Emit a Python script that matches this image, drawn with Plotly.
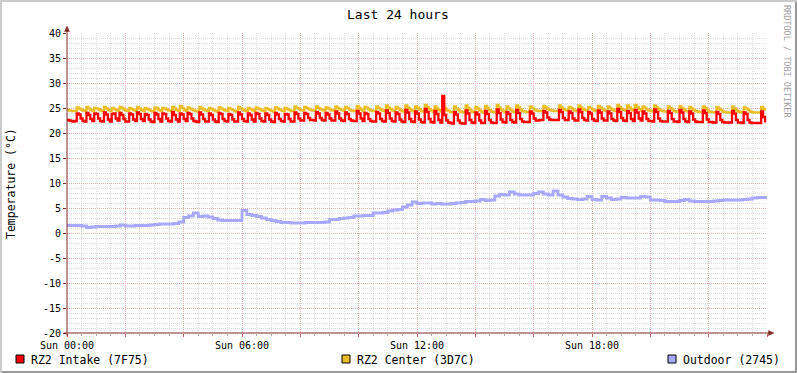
import plotly.graph_objects as go
import pandas as pd

# ---------------- data ----------------
START = "2024-03-03 00:00"   # a Sunday
END = "2024-03-04 00:00"

SERIES_NAMES = ["RZ2 Intake (7F75)", "RZ2 Center (3D7C)", "Outdoor (2745)"]
COLORS = ["#FF0000", "#EBBE28", "#A8A8FF"]

# 4-minute samples
intake = [
    22.6, 22.5, 22.4, 22.3, 22.4,
    23.9, 23.7, 22.9, 22.4, 22.3,
    24.0, 23.6, 22.8, 22.4,
    23.9, 23.8, 22.9, 22.4, 22.3,
    24.1, 23.7, 22.7, 22.3,
    23.8, 23.9, 22.9, 22.5,
    24.0, 23.6, 22.8, 22.3, 22.3,
    23.9, 23.7, 22.7, 22.4,
    24.1, 23.8, 22.8, 22.4,
    23.8, 23.6, 22.7, 22.3, 22.2,
    24.0, 23.7, 22.8, 22.3,
    23.9, 23.8, 22.9, 22.4, 22.3,
    24.2, 23.6, 22.7, 22.3,
    23.9, 23.7, 22.8, 22.4,
    24.0, 23.8, 22.9, 22.4, 22.3, 22.2,
    24.1, 23.7, 22.8, 22.3, 22.3,
    23.9, 23.6, 22.7, 22.3, 22.2,
    24.0, 23.8, 22.8, 22.4, 22.3,
    23.8, 23.6, 22.7, 22.3, 22.3,
    24.1, 23.7, 22.8, 22.4, 22.3,
    23.9, 23.6, 22.7, 22.3,
    24.0, 23.8, 22.9, 22.4, 22.3,
    23.9, 23.6, 22.7, 22.3, 22.2,
    24.0, 23.7, 22.8, 22.4, 22.3,
    23.8, 23.7, 22.8, 22.3, 22.3,
    24.1, 23.8, 22.9, 22.5, 22.5,
    24.0, 23.8, 23.0, 22.6, 22.6, 22.5,
    24.2, 23.9, 23.0, 22.6, 22.5,
    24.0, 23.7, 22.9, 22.5, 22.5,
    24.3, 23.9, 22.9, 22.5, 22.4,
    24.1, 23.8, 22.8, 22.5, 22.4, 22.4,
    24.4, 23.9, 22.9, 22.4,
    24.0, 23.8, 22.8, 22.4, 22.3, 22.3,
    24.2, 23.9, 22.8, 22.4, 22.3,
    24.5, 24.0, 22.9, 22.4, 22.3,
    24.1, 23.8, 22.7, 22.3, 22.2,
    24.6, 24.1, 22.8, 22.3, 22.2,
    24.3, 23.9, 22.7, 22.2, 22.1,
    24.8, 24.2, 22.8, 22.2, 22.1,
    24.4, 23.8, 22.6, 22.1,
    27.4, 23.6, 22.5, 22.1, 22.0, 21.9,
    24.2, 23.7, 22.5, 22.0, 21.9, 21.9,
    24.5, 23.9, 22.6, 22.1, 22.0,
    24.1, 23.7, 22.5, 22.0, 22.0,
    24.4, 23.8, 22.6, 22.1, 22.0, 22.0,
    24.7, 24.0, 22.7, 22.2, 22.1,
    24.2, 23.8, 22.6, 22.2, 22.1,
    24.6, 24.0, 22.8, 22.3, 22.2, 22.2, 22.2,
    24.3, 23.9, 22.9, 22.5, 22.5, 22.6, 22.6,
    24.4, 24.1, 23.1, 22.7, 22.6, 22.6, 22.6, 22.6,
    24.6, 24.2, 23.0, 22.6, 22.6,
    24.3, 24.0, 22.9, 22.5, 22.5,
    24.7, 24.2, 23.0, 22.6, 22.5,
    24.2, 23.9, 22.8, 22.5, 22.4,
    24.5, 24.1, 22.9, 22.5, 22.5,
    24.3, 23.9, 22.8, 22.5, 22.4,
    24.8, 24.2, 23.0, 22.5, 22.4,
    24.4, 24.0, 22.8, 22.4,
    24.6, 24.1, 22.9, 22.5,
    24.3, 23.9, 22.8, 22.4, 22.4, 22.3,
    24.7, 24.2, 22.9, 22.4, 22.3, 22.3, 22.3,
    24.4, 24.0, 22.8, 22.3, 22.3, 22.2,
    24.6, 24.1, 22.8, 22.3, 22.2,
    24.3, 23.9, 22.7, 22.3, 22.2, 22.2, 22.2,
    24.5, 24.0, 22.7, 22.2, 22.2, 22.1, 22.1,
    24.2, 23.8, 22.6, 22.2, 22.1, 22.1, 22.1, 22.1,
    24.4, 23.9, 22.6, 22.1, 22.1, 22.0,
    24.1, 23.8, 22.6, 22.1, 22.0, 22.0, 22.0, 22.0, 22.0,
    24.3, 23.2, 22.1,
]

center = [
    24.6, 24.5, 24.4, 24.4, 24.4,
    25.1, 24.9, 24.7, 24.5, 24.4,
    25.2, 24.9, 24.6, 24.4,
    25.0, 24.9, 24.7, 24.5, 24.4,
    25.2, 24.9, 24.6, 24.4,
    25.0, 24.8, 24.6, 24.4,
    25.2, 25.0, 24.7, 24.5, 24.4,
    25.0, 24.8, 24.6, 24.4,
    25.2, 24.9, 24.6, 24.4,
    25.0, 24.8, 24.6, 24.4, 24.3,
    25.1, 24.9, 24.6, 24.4,
    25.0, 24.9, 24.7, 24.5, 24.4,
    25.2, 24.9, 24.6, 24.4,
    25.4, 25.0, 24.7, 24.4,
    25.1, 24.9, 24.7, 24.5, 24.4, 24.3,
    25.2, 24.9, 24.7, 24.5, 24.4,
    25.0, 24.8, 24.6, 24.4, 24.3,
    25.1, 24.9, 24.7, 24.5, 24.4,
    25.0, 24.8, 24.6, 24.4, 24.3,
    25.2, 24.9, 24.7, 24.5, 24.4,
    25.0, 24.8, 24.6, 24.4,
    25.1, 24.9, 24.7, 24.5, 24.4,
    25.0, 24.8, 24.6, 24.4, 24.3,
    25.1, 24.9, 24.7, 24.5, 24.4,
    25.0, 24.8, 24.6, 24.4, 24.4,
    25.3, 25.0, 24.8, 24.6, 24.5,
    25.2, 25.0, 24.8, 24.6, 24.5, 24.5,
    25.3, 25.0, 24.8, 24.6, 24.5,
    25.1, 24.9, 24.7, 24.5, 24.5,
    25.3, 25.0, 24.8, 24.6, 24.5,
    25.2, 25.0, 24.7, 24.5, 24.4, 24.4,
    25.4, 25.0, 24.7, 24.4,
    25.2, 25.0, 24.7, 24.5, 24.4, 24.4,
    25.3, 25.0, 24.7, 24.5, 24.4,
    25.5, 25.1, 24.8, 24.5, 24.4,
    25.2, 24.9, 24.6, 24.4, 24.3,
    25.5, 25.1, 24.8, 24.5, 24.3,
    25.3, 25.0, 24.7, 24.4, 24.3,
    25.6, 25.2, 24.8, 24.5, 24.3,
    25.3, 24.9, 24.6, 24.3,
    25.5, 25.0, 24.6, 24.4, 24.2, 24.2,
    25.3, 24.9, 24.6, 24.3, 24.2, 24.1,
    25.5, 25.0, 24.6, 24.3, 24.2,
    25.2, 24.9, 24.5, 24.3, 24.1,
    25.4, 25.0, 24.6, 24.3, 24.2, 24.1,
    25.6, 25.1, 24.7, 24.4, 24.2,
    25.3, 24.9, 24.6, 24.3, 24.2,
    25.5, 25.1, 24.7, 24.4, 24.3, 24.2, 24.2,
    25.3, 25.0, 24.7, 24.5, 24.4, 24.4, 24.4,
    25.4, 25.1, 24.8, 24.6, 24.5, 24.4, 24.4, 24.4,
    25.5, 25.1, 24.8, 24.6, 24.5,
    25.2, 25.0, 24.7, 24.5, 24.4,
    25.5, 25.1, 24.8, 24.6, 24.5,
    25.2, 25.0, 24.7, 24.5, 24.4,
    25.4, 25.1, 24.8, 24.5, 24.4,
    25.3, 25.0, 24.7, 24.5, 24.4,
    25.6, 25.2, 24.8, 24.6, 24.5,
    25.5, 25.1, 24.7, 24.5,
    25.6, 25.2, 24.8, 24.5,
    25.3, 25.0, 24.7, 24.5, 24.4, 24.3,
    25.5, 25.1, 24.8, 24.5, 24.4, 24.3, 24.3,
    25.3, 25.0, 24.7, 24.4, 24.3, 24.3,
    25.4, 25.0, 24.7, 24.4, 24.3,
    25.2, 24.9, 24.6, 24.4, 24.3, 24.2, 24.2,
    25.3, 25.0, 24.6, 24.3, 24.2, 24.2, 24.1,
    25.2, 24.9, 24.6, 24.3, 24.2, 24.1, 24.1, 24.1,
    25.3, 24.9, 24.5, 24.3, 24.2, 24.1,
    25.1, 24.9, 24.6, 24.3, 24.2, 24.1, 24.1, 24.1, 24.1,
    25.2, 24.8, 24.5,
]

# 10-minute samples
outdoor = [
    1.5, 1.5, 1.5, 1.4, 1.1, 1.2, 1.3, 1.3, 1.3, 1.3,
    1.4, 1.6, 1.4, 1.4, 1.5, 1.5, 1.5, 1.6, 1.7, 1.8,
    1.8, 1.8, 1.9, 2.2, 3.1, 3.4, 4.0, 3.3, 3.4, 3.2,
    2.9, 2.6, 2.5, 2.5, 2.5, 2.5, 4.5, 3.7, 3.5, 3.3,
    3.0, 2.7, 2.5, 2.3, 2.1, 2.1, 2.0, 2.0, 2.0, 2.1,
    2.1, 2.1, 2.1, 2.2, 2.7, 2.7, 2.9, 3.0, 3.1, 3.4,
    3.4, 3.5, 3.5, 4.0, 4.0, 4.1, 4.4, 4.6, 4.7, 5.2,
    5.6, 6.2, 5.9, 6.0, 6.0, 5.8, 5.9, 5.8, 5.8, 5.9,
    6.0, 6.1, 6.3, 6.3, 6.4, 6.7, 6.5, 6.6, 7.4, 7.7,
    7.6, 8.2, 7.8, 7.6, 7.6, 7.6, 7.9, 8.2, 7.8, 7.6,
    8.4, 7.6, 7.2, 6.9, 6.8, 6.7, 6.8, 7.3, 6.7, 6.6,
    7.3, 7.0, 6.7, 6.8, 7.1, 7.0, 7.0, 7.0, 7.3, 7.2,
    6.6, 6.6, 6.5, 6.3, 6.3, 6.3, 6.5, 6.7, 6.4, 6.3,
    6.3, 6.3, 6.3, 6.4, 6.5, 6.6, 6.6, 6.6, 6.6, 6.7,
    6.8, 7.0, 7.1, 7.1, 7.2,
]

X_TICKVALS = ["2024-03-03 00:00", "2024-03-03 02:00", "2024-03-03 04:00",
              "2024-03-03 06:00", "2024-03-03 08:00", "2024-03-03 10:00",
              "2024-03-03 12:00", "2024-03-03 14:00", "2024-03-03 16:00",
              "2024-03-03 18:00", "2024-03-03 20:00", "2024-03-03 22:00",
              "2024-03-04 00:00"]
X_TICKTEXT = ["Sun 00:00", "", "", "Sun 06:00", "", "", "Sun 12:00", "", "",
              "Sun 18:00", "", "", ""]
Y_TICKVALS = [-20, -15, -10, -5, 0, 5, 10, 15, 20, 25, 30, 35, 40]
Y_TICKTEXT = ["-20", "-15", "-10", "-5", "0", "5", "10", "15", "20", "25", "30", "35", "40"]

TITLE = "Last 24 hours"
Y_TITLE = "Temperature (°C)"
WATERMARK = "RRDTOOL / TOBI OETIKER"

# ---------------- figure ----------------
FONT = "DejaVu Sans Mono"
W, H = 797, 373
L, R, T, B = 67, 30, 33, 40
PW, PH = W - L - R, H - T - B

def px(x):
    return (x - L) / PW

def py(y):
    return (H - B - y) / PH

AXIS = "#802828"
MGRID = "#eab0b0"
GRID = "#dcdcdc"

t_fast = pd.date_range(START, periods=len(intake), freq="4min")
t_slow = pd.date_range(START, periods=len(outdoor), freq="10min")

fig = go.Figure()
fig.add_trace(go.Scatter(x=t_slow, y=outdoor, name=SERIES_NAMES[2], mode="lines",
                         line=dict(color=COLORS[2], width=2.8, shape="hv")))
fig.add_trace(go.Scatter(x=t_fast, y=center, name=SERIES_NAMES[1], mode="lines",
                         line=dict(color=COLORS[1], width=2.3, shape="hv")))
fig.add_trace(go.Scatter(x=t_fast, y=intake, name=SERIES_NAMES[0], mode="lines",
                         line=dict(color=COLORS[0], width=2.3, shape="hv")))

shapes = []
# canvas shading (rrdtool style)
shapes.append(dict(type="rect", xref="paper", yref="paper", x0=px(0), x1=px(W), y0=py(0), y1=py(2),
                   fillcolor="#CBCBCB", line=dict(width=0), layer="above"))
shapes.append(dict(type="rect", xref="paper", yref="paper", x0=px(0), x1=px(2), y0=py(0), y1=py(H),
                   fillcolor="#CBCBCB", line=dict(width=0), layer="above"))
shapes.append(dict(type="rect", xref="paper", yref="paper", x0=px(2), x1=px(W), y0=py(H - 2), y1=py(H),
                   fillcolor="#999999", line=dict(width=0), layer="above"))
shapes.append(dict(type="rect", xref="paper", yref="paper", x0=px(W - 2), x1=px(W), y0=py(2), y1=py(H),
                   fillcolor="#999999", line=dict(width=0), layer="above"))
# axes with arrows
shapes.append(dict(type="line", xref="paper", yref="paper", x0=px(67), x1=px(67), y0=py(336), y1=py(30),
                   line=dict(color=AXIS, width=1), layer="above"))
shapes.append(dict(type="line", xref="paper", yref="paper", x0=px(64), x1=px(770), y0=py(333), y1=py(333),
                   line=dict(color=AXIS, width=1), layer="above"))
shapes.append(dict(type="path", xref="paper", yref="paper",
                   path=f"M {px(67)} {py(26)} L {px(64.5)} {py(31.5)} L {px(69.5)} {py(31.5)} Z",
                   fillcolor=AXIS, line=dict(color=AXIS, width=0.5), layer="above"))
shapes.append(dict(type="path", xref="paper", yref="paper",
                   path=f"M {px(774)} {py(333)} L {px(768.5)} {py(330.5)} L {px(768.5)} {py(335.5)} Z",
                   fillcolor=AXIS, line=dict(color=AXIS, width=0.5), layer="above"))

# legend
LEG_BOX_X = [16, 342, 668]
annotations = []
for name, col, bx in zip(SERIES_NAMES, COLORS, LEG_BOX_X):
    shapes.append(dict(type="rect", xref="paper", yref="paper", x0=px(bx), x1=px(bx + 8),
                       y0=py(363), y1=py(355), fillcolor=col, line=dict(color="#000000", width=1),
                       layer="above"))
    annotations.append(dict(text=name, xref="paper", yref="paper", x=px(bx + 13), y=py(359.5),
                            xanchor="left", yanchor="middle", showarrow=False,
                            font=dict(family=FONT, size=11.5, color="#000000")))

annotations.append(dict(text=TITLE, xref="paper", yref="paper", x=px(398), y=py(14),
                        xanchor="center", yanchor="middle", showarrow=False,
                        font=dict(family=FONT, size=13, color="#000000")))
annotations.append(dict(text=Y_TITLE, xref="paper", yref="paper", x=px(11), y=py(184),
                        xanchor="center", yanchor="middle", showarrow=False, textangle=-90,
                        font=dict(family=FONT, size=11.5, color="#000000")))
annotations.append(dict(text=WATERMARK, xref="paper", yref="paper", x=px(787), y=py(62),
                        xanchor="center", yanchor="middle", showarrow=False, textangle=90,
                        font=dict(family=FONT, size=8.5, color="#A0A0A0")))

fig.update_layout(
    width=W, height=H,
    margin=dict(l=L, r=R, t=T, b=B, pad=0),
    paper_bgcolor="#FFFFFF", plot_bgcolor="#FFFFFF",
    showlegend=False,
    font=dict(family=FONT, size=10, color="#000000"),
    shapes=shapes, annotations=annotations,
    xaxis=dict(type="date", range=[START, END], tickmode="array",
               tickvals=X_TICKVALS, ticktext=X_TICKTEXT,
               showgrid=True, gridcolor=MGRID, griddash="1px,1px", gridwidth=1,
               ticks="outside", ticklen=3, tickcolor="#d06060",
               tickfont=dict(family=FONT, size=10),
               minor=dict(tickmode="linear", tick0=START, dtick=1800000, showgrid=True,
                          gridcolor=GRID, griddash="1px,1px", gridwidth=1,
                          ticks="outside", ticklen=2, tickcolor="#b0b0b0"),
               showline=False, zeroline=False),
    yaxis=dict(range=[-20, 40], tickmode="array", tickvals=Y_TICKVALS, ticktext=Y_TICKTEXT,
               showgrid=True, gridcolor=MGRID, griddash="1px,1px", gridwidth=1,
               ticks="outside", ticklen=3, tickcolor=AXIS,
               tickfont=dict(family=FONT, size=10),
               minor=dict(tickmode="linear", tick0=0, dtick=1, showgrid=True,
                          gridcolor=GRID, griddash="1px,1px", gridwidth=1),
               showline=False, zeroline=False),
)

fig.write_html("out.html", config={"displayModeBar": False, "staticPlot": True},
               post_script="document.body.style.margin='0';document.body.style.overflow='hidden';")
